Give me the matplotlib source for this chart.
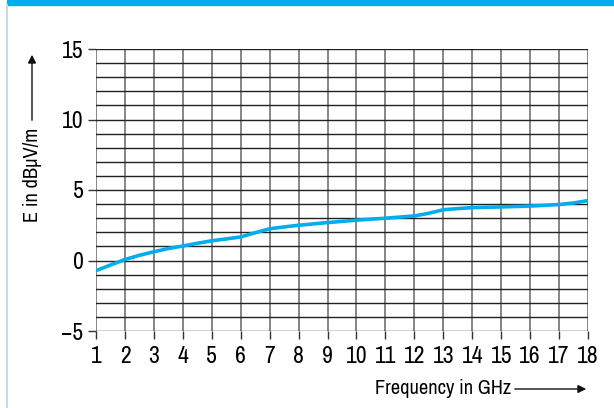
import numpy as np
import matplotlib
matplotlib.use("Agg")
import matplotlib.pyplot as plt
from matplotlib import font_manager
from matplotlib.patches import Rectangle, FancyArrowPatch
from matplotlib.lines import Line2D

# curve
freq = [1, 1.5, 2, 2.5, 3, 3.5, 4, 4.5, 5, 5.5, 6, 6.5, 7, 7.5, 8, 9, 10,
        11, 12, 12.5, 13, 13.5, 14, 15, 16, 17, 17.5, 18]
level = [-0.72, -0.32, 0.07, 0.37, 0.62, 0.85, 1.03, 1.22, 1.4, 1.53, 1.67,
         1.97, 2.25, 2.38, 2.5, 2.69, 2.86, 3.0, 3.16, 3.35, 3.6, 3.68, 3.75,
         3.8, 3.86, 3.97, 4.08, 4.25]
xticks = list(range(1, 19))
yticks = [-5, 0, 5, 10, 15]

# look for a narrow face, otherwise fall back to Liberation Sans
names = sorted({f.name for f in font_manager.fontManager.ttflist})
narrow = [n for n in names if 'Narrow' in n or 'Condensed' in n]
fam = narrow[0] if narrow else 'Liberation Sans'
plt.rcParams['font.family'] = [fam, 'DejaVu Sans']
fs_tick = 17 if narrow else 13
fs_lab = 14.7 if narrow else 12

W, H = 614, 408
fig = plt.figure(figsize=(W / 100, H / 100), dpi=100)

# banner and left border
fig.patches.append(Rectangle((7 / W, 1 - 5 / H), 1, 5 / H, transform=fig.transFigure,
                             color='#00aeef', zorder=0))
fig.lines.append(Line2D([7 / W, 7 / W], [0, 1 - 5 / H], transform=fig.transFigure,
                        color='#cfd6dd', lw=1.5))

left, right, top, bottom = 96, 588, 49, 331
ax = fig.add_axes([left / W, 1 - bottom / H, (right - left) / W, (bottom - top) / H])

for x in xticks:
    ax.axvline(x, color='#666666', lw=1.1, zorder=1)
for y in range(-5, 16):
    ax.axhline(y, color='#222222', lw=1.0, zorder=1)

ax.plot(freq, level, color='#00aeef', lw=2.6, solid_capstyle='round', zorder=3)

ax.set_xlim(1, 18)
ax.set_ylim(-5, 15)
ax.set_xticks(xticks)
ax.set_yticks(yticks)
ax.set_yticklabels(['\u22125' if v == -5 else str(v) for v in yticks])
ax.tick_params(axis='both', direction='out', length=6, width=1, color='#333333',
               labelsize=fs_tick, pad=3)
ax.tick_params(axis='x', pad=5)
for s in ax.spines.values():
    s.set_visible(False)

# axis labels with arrows
fig.text(33 / W, 1 - 222 / H, 'E in dB\u00b5V/m', rotation=90, ha='center', va='bottom',
         fontsize=fs_lab)
fig.patches.append(FancyArrowPatch(
    (32 / W, 1 - 123 / H), (32 / W, 1 - 52 / H), transform=fig.transFigure,
    arrowstyle='-|>', mutation_scale=12, lw=1, color='#111111'))

fig.text(511 / W, 1 - 389 / H, 'Frequency in GHz', ha='right', va='center', fontsize=fs_lab)
fig.patches.append(FancyArrowPatch(
    (512 / W, 1 - 389 / H), (589 / W, 1 - 389 / H), transform=fig.transFigure,
    arrowstyle='-|>', mutation_scale=12, lw=1, color='#111111'))

fig.savefig('out.png', dpi=100)
